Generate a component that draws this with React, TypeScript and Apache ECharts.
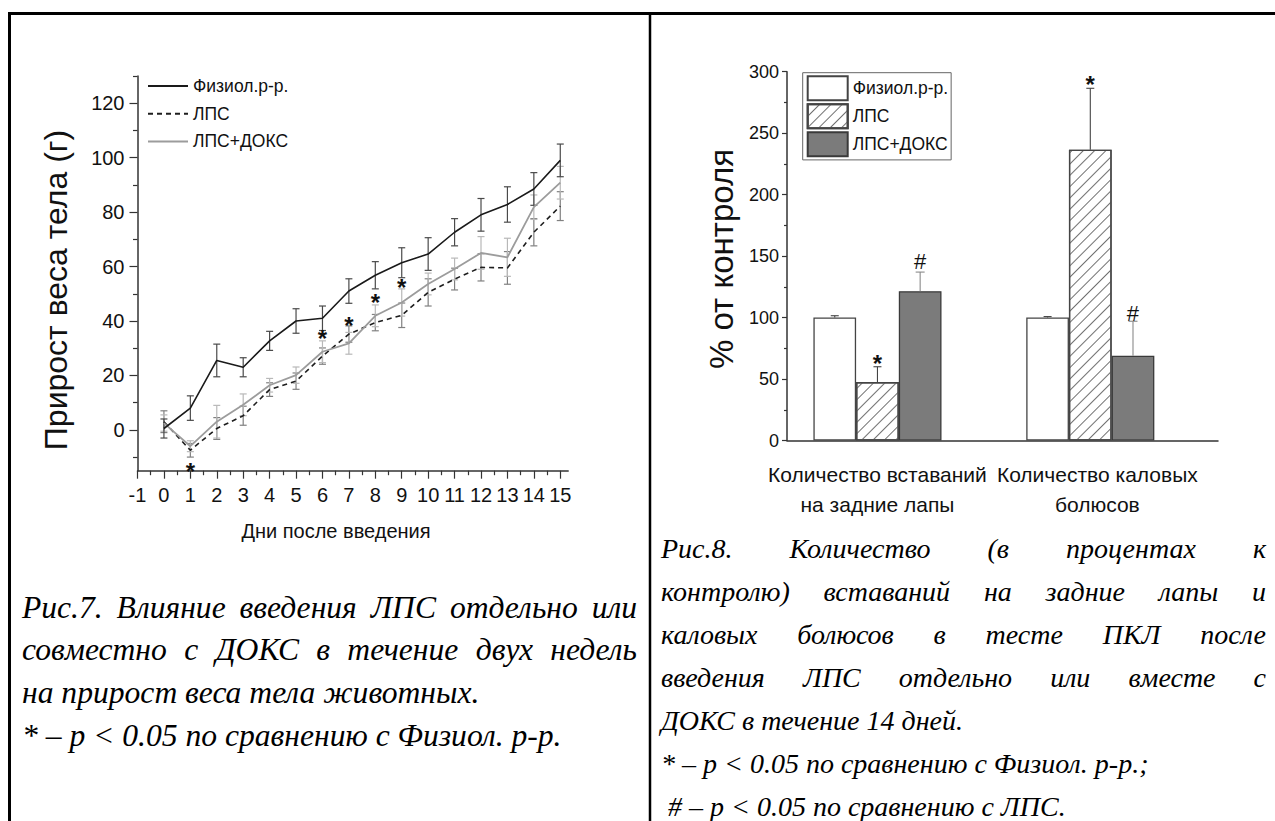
import React, { useEffect, useRef } from 'react';
import * as echarts from 'echarts';

// ---------- Left chart data (Рис.7) ----------
const days = [0, 1, 2, 3, 4, 5, 6, 7, 8, 9, 10, 11, 12, 13, 14, 15];
const physio = [0.5, 8, 25.5, 23, 32.7, 40, 41, 51, 56.8, 61.4, 64.6, 72.6, 79, 82.8, 88.5, 99];
const physioErr = [3.5, 4.5, 6, 3.5, 3.5, 4.5, 4.5, 4.5, 5, 5.5, 6, 5, 6, 6.5, 6, 6];
const lps = [3, -7.5, 0.5, 5.2, 14.8, 17.9, 27.1, 35.2, 39.4, 42.1, 50.5, 55.4, 59.7, 59.5, 72.6, 82.2];
const lpsErr = [4, 2.5, 4, 3.5, 2.5, 3, 3, 3, 3, 4.5, 5, 4, 5, 6, 5, 5.3];
const lpsDox = [2.5, -6, 3, 9.2, 16.4, 20.1, 28.7, 31.8, 41.9, 46.8, 53.6, 59.1, 65, 63.4, 81.8, 90.8];
const lpsDoxErr = [3, 2, 6, 4, 2.5, 3, 4, 4, 4, 5, 4, 4, 6, 7, 4.5, 6];
const leftStars = [[1, -13.5, 0], [6, 35.4, 0], [7, 40, 0], [8, 48.6, 0], [9, 54, 0]];
const lineNames = ['Физиол.р-р.', 'ЛПС', 'ЛПС+ДОКС'];
const dayTicks = [-1, 0, 1, 2, 3, 4, 5, 6, 7, 8, 9, 10, 11, 12, 13, 14, 15];
const dayMinorTicks = [-0.5, 0.5, 1.5, 2.5, 3.5, 4.5, 5.5, 6.5, 7.5, 8.5, 9.5, 10.5, 11.5, 12.5, 13.5, 14.5];
const weightTicks = [0, 20, 40, 60, 80, 100, 120];
const weightMinorTicks = [-10, 10, 30, 50, 70, 90, 110, 130];

// ---------- Right chart data (Рис.8) ----------
const barGroups = ['Количество вставаний\nна задние лапы', 'Количество каловых\nболюсов'];
const barPos = [1, 2];
const groupLabelPos = [1, 2.033];
const physioPct = [100, 100];
const physioPctErr = [1.5, 0.8];
const lpsPct = [47.5, 236.5];
const lpsPctErr = [12.5, 50];
const lpsDoxPct = [121.5, 69];
const lpsDoxPctErr = [15.5, 28];
const rightStars = [[1, 67, 0], [2, 294, 0]];
const rightHashes = [[1, 146, 1], [2, 103.7, 1]];
const barSeriesKeys = ['bar-phys', 'bar-lps', 'bar-lpsdox'];
const barLegendLabels = ['Физиол.р-р.', 'ЛПС', 'ЛПС+ДОКС'];

// ---------- Captions ----------
const leftCaption: [string, boolean][] = [
  ['Рис.7. Влияние введения ЛПС отдельно или', true],
  ['совместно с ДОКС в течение двух недель', true],
  ['на прирост веса тела животных.', false],
  ['* – p < 0.05 по сравнению с Физиол. р-р.', false],
];
const rightCaption: [string, boolean][] = [
  ['Рис.8. Количество (в процентах к', true],
  ['контролю) вставаний на задние лапы и', true],
  ['каловых болюсов в тесте ПКЛ после', true],
  ['введения ЛПС отдельно или вместе с', true],
  ['ДОКС в течение 14 дней.', false],
  ['* – p < 0.05 по сравнению с Физиол. р-р.;', false],
  [' # – p < 0.05 по сравнению с ЛПС.', false],
];

const W = 1275;
const H = 821;
const SANS = 'Liberation Sans';
const SERIF = 'Liberation Serif';
const BAR_W = 42.7;

function measure(text: string, font: string): number {
  const ctx = document.createElement('canvas').getContext('2d')!;
  ctx.font = font;
  return ctx.measureText(text).width;
}

function captionElements(lines: [string, boolean][], size: number, x0: number, x1: number, y0: number, dy: number) {
  const font = `italic ${size}px "${SERIF}"`;
  const els: any[] = [];
  lines.forEach(([text, justify], li) => {
    const y = y0 + li * dy;
    const style = { fontStyle: 'italic', fontSize: size, fontFamily: SERIF, fill: '#000', verticalAlign: 'middle', align: 'left' };
    if (!justify) {
      els.push({ type: 'text', silent: true, x: x0, y, style: { ...style, text } });
      return;
    }
    const words = text.split(' ');
    const widths = words.map((w) => measure(w, font));
    const total = widths.reduce((a, b) => a + b, 0);
    const gap = (x1 - x0 - total) / (words.length - 1);
    let x = x0;
    words.forEach((w, i) => {
      els.push({ type: 'text', silent: true, x, y, style: { ...style, text: w } });
      x += widths[i] + gap;
    });
  });
  return els;
}

const errRender = (color: string, hw: number) => (params: any, api: any) => {
  const x = api.value(0);
  const y = api.value(1);
  const e = api.value(2);
  const t = api.coord([x, y + e]);
  const b = api.coord([x, y - e]);
  const st = { stroke: color, lineWidth: 1.2 };
  return {
    type: 'group',
    children: [
      { type: 'line', shape: { x1: t[0], y1: t[1], x2: b[0], y2: b[1] }, style: st },
      { type: 'line', shape: { x1: t[0] - hw, y1: t[1], x2: t[0] + hw, y2: t[1] }, style: st },
      { type: 'line', shape: { x1: b[0] - hw, y1: b[1], x2: b[0] + hw, y2: b[1] }, style: st },
    ],
  };
};

const barErrRender = (color: string, hw: number) => (params: any, api: any) => {
  const x = api.value(0);
  const y = api.value(1);
  const e = api.value(2);
  const s = api.value(3);
  const a = api.coord([x, y]);
  const t = api.coord([x, y + e]);
  const dx = s * BAR_W;
  const st = { stroke: color, lineWidth: 1.1 };
  return {
    type: 'group',
    children: [
      { type: 'line', shape: { x1: a[0] + dx, y1: a[1], x2: t[0] + dx, y2: t[1] }, style: st },
      { type: 'line', shape: { x1: t[0] + dx - hw, y1: t[1], x2: t[0] + dx + hw, y2: t[1] }, style: st },
    ],
  };
};

const markRender = (mark: string, size: number, weight: string, dy: number) => (params: any, api: any) => {
  const p = api.coord([api.value(0), api.value(1)]);
  return {
    type: 'text',
    x: p[0] + api.value(2) * BAR_W,
    y: p[1] + dy,
    style: { text: mark, fontSize: size, fontWeight: weight, fontFamily: SANS, fill: '#111', align: 'center', verticalAlign: 'middle' },
  };
};

export default function App() {
  const ref = useRef<HTMLDivElement>(null);
  useEffect(() => {
    const chart = echarts.init(ref.current!, null, { renderer: 'svg', width: W, height: H });
    const axisColor = '#333';
    const labelStyle = { color: '#111', fontFamily: SANS };

    const option: any = {
      animation: false,
      backgroundColor: '#fff',
      grid: [
        { left: 137.5, top: 76, width: 430.7, height: 394.7 },
        { left: 787, top: 71.7, width: 431, height: 368.8 },
      ],
      legend: [
        {
          data: lineNames,
          orient: 'vertical',
          left: 147,
          top: 77,
          padding: 0,
          itemWidth: 40,
          itemHeight: 16,
          itemGap: 9.7,
          selectedMode: false,
          itemStyle: { opacity: 0 },
          textStyle: { fontSize: 17.5, fontFamily: SANS, color: '#111' },
        },
        {
          data: barSeriesKeys,
          formatter: (name: string) => barLegendLabels[barSeriesKeys.indexOf(name)],
          orient: 'vertical',
          left: 802.7,
          top: 72.7,
          padding: [2.6, 3, 2.6, 4],
          itemWidth: 40,
          itemHeight: 24,
          itemGap: 2,
          icon: 'rect',
          borderColor: '#666',
          borderWidth: 1,
          selectedMode: false,
          textStyle: { fontSize: 17.5, fontFamily: SANS, color: '#111' },
        },
      ],
      xAxis: [
        {
          type: 'value', gridIndex: 0, min: -1, max: 15.3, position: 'bottom',
          axisLine: { onZero: false, lineStyle: { color: axisColor, width: 1.5 } },
          axisTick: { customValues: dayTicks, length: 8, lineStyle: { color: axisColor, width: 1.2 } },
          axisLabel: { customValues: dayTicks, margin: 14, fontSize: 20, ...labelStyle },
          splitLine: { show: false },
        },
        {
          type: 'value', gridIndex: 0, min: -1, max: 15.3, position: 'bottom',
          axisLine: { show: false, onZero: false },
          axisTick: { customValues: dayMinorTicks, length: 4.5, lineStyle: { color: axisColor, width: 1.2 } },
          axisLabel: { show: false },
          splitLine: { show: false },
        },
        {
          type: 'value', gridIndex: 1, min: 0.575, max: 2.6, position: 'bottom',
          axisLine: { onZero: false, lineStyle: { color: axisColor, width: 1.5 } },
          axisTick: { show: false },
          axisLabel: {
            customValues: groupLabelPos,
            formatter: (v: number) => barGroups[groupLabelPos.indexOf(v)],
            fontSize: 21, lineHeight: 30, margin: 19, ...labelStyle,
          },
          splitLine: { show: false },
        },
      ],
      yAxis: [
        {
          type: 'value', gridIndex: 0, min: -15, max: 130, position: 'left',
          axisLine: { show: true, onZero: false, lineStyle: { color: axisColor, width: 1.5 } },
          axisTick: { show: true, customValues: weightTicks, length: 8, lineStyle: { color: axisColor, width: 1.2 } },
          axisLabel: { customValues: weightTicks, margin: 13, fontSize: 20, ...labelStyle },
          splitLine: { show: false },
        },
        {
          type: 'value', gridIndex: 0, min: -15, max: 130, position: 'left',
          axisLine: { show: false, onZero: false },
          axisTick: { show: true, customValues: weightMinorTicks, length: 4.5, lineStyle: { color: axisColor, width: 1.2 } },
          axisLabel: { show: false },
          splitLine: { show: false },
        },
        {
          type: 'value', gridIndex: 1, min: 0, max: 300, interval: 50, position: 'left',
          axisLine: { show: true, onZero: false, lineStyle: { color: axisColor, width: 1.5 } },
          axisTick: { show: true, length: 5, lineStyle: { color: axisColor, width: 1.2 } },
          minorTick: { show: true, splitNumber: 2, length: 3, lineStyle: { color: axisColor, width: 1.2 } },
          axisLabel: { margin: 8, fontSize: 18, ...labelStyle },
          splitLine: { show: false },
        },
      ],
      series: [
        // error bars (left)
        { type: 'custom', name: 'errLps', xAxisIndex: 0, yAxisIndex: 0, z: 1, silent: true, encode: { x: 0, y: 1 },
          renderItem: errRender('#808080', 3.5), data: days.map((d, i) => [d, lps[i], lpsErr[i]]) },
        { type: 'custom', name: 'errLpsDox', xAxisIndex: 0, yAxisIndex: 0, z: 1, silent: true, encode: { x: 0, y: 1 },
          renderItem: errRender('#b8b8b8', 3.5), data: days.map((d, i) => [d, lpsDox[i], lpsDoxErr[i]]) },
        { type: 'custom', name: 'errPhysio', xAxisIndex: 0, yAxisIndex: 0, z: 1, silent: true, encode: { x: 0, y: 1 },
          renderItem: errRender('#4a4a4a', 3.5), data: days.map((d, i) => [d, physio[i], physioErr[i]]) },
        // lines
        { type: 'line', name: lineNames[1], xAxisIndex: 0, yAxisIndex: 0, z: 3, symbol: 'none',
          lineStyle: { color: '#1e1e1e', width: 1.6, type: [5, 4] }, itemStyle: { color: '#1e1e1e' },
          data: days.map((d, i) => [d, lps[i]]) },
        { type: 'line', name: lineNames[2], xAxisIndex: 0, yAxisIndex: 0, z: 3, symbol: 'none',
          lineStyle: { color: '#9c9c9c', width: 1.8 }, itemStyle: { color: '#9c9c9c' },
          data: days.map((d, i) => [d, lpsDox[i]]) },
        { type: 'line', name: lineNames[0], xAxisIndex: 0, yAxisIndex: 0, z: 4, symbol: 'none',
          lineStyle: { color: '#1a1a1a', width: 1.6 }, itemStyle: { color: '#1a1a1a' },
          data: days.map((d, i) => [d, physio[i]]) },
        { type: 'custom', name: 'starsLeft', xAxisIndex: 0, yAxisIndex: 0, z: 5, silent: true, encode: { x: 0, y: 1 },
          renderItem: markRender('*', 24, 'bold', 5), data: leftStars },
        // bars (right)
        { type: 'bar', name: barSeriesKeys[0], xAxisIndex: 2, yAxisIndex: 2, barWidth: BAR_W, barGap: '0%',
          itemStyle: { color: '#ffffff', borderColor: '#444', borderWidth: 1.3 },
          data: barPos.map((p, i) => [p, physioPct[i]]) },
        { type: 'bar', name: barSeriesKeys[1], xAxisIndex: 2, yAxisIndex: 2, barWidth: BAR_W, barGap: '0%',
          itemStyle: {
            color: '#ffffff', borderColor: '#444', borderWidth: 1.3,
            decal: { symbol: 'rect', symbolSize: 1, color: '#707070', dashArrayX: [1, 0], dashArrayY: [1, 6.5], rotation: -Math.PI / 4 },
          },
          data: barPos.map((p, i) => [p, lpsPct[i]]) },
        { type: 'bar', name: barSeriesKeys[2], xAxisIndex: 2, yAxisIndex: 2, barWidth: BAR_W, barGap: '0%',
          itemStyle: { color: '#7b7b7b', borderColor: '#3a3a3a', borderWidth: 1.3 },
          data: barPos.map((p, i) => [p, lpsDoxPct[i]]) },
        { type: 'custom', name: 'errBars', xAxisIndex: 2, yAxisIndex: 2, z: 3, silent: true, encode: { x: 0, y: 1 },
          renderItem: barErrRender('#444', 4), data: barPos.map((p, i) => [p, physioPct[i], physioPctErr[i], -1]) },
        { type: 'custom', name: 'errBars2', xAxisIndex: 2, yAxisIndex: 2, z: 3, silent: true, encode: { x: 0, y: 1 },
          renderItem: barErrRender('#444', 4), data: barPos.map((p, i) => [p, lpsPct[i], lpsPctErr[i], 0]) },
        { type: 'custom', name: 'errBars3', xAxisIndex: 2, yAxisIndex: 2, z: 3, silent: true, encode: { x: 0, y: 1 },
          renderItem: barErrRender('#8a8a8a', 4.5), data: barPos.map((p, i) => [p, lpsDoxPct[i], lpsDoxPctErr[i], 1]) },
        { type: 'custom', name: 'starsRight', xAxisIndex: 2, yAxisIndex: 2, z: 5, silent: true, encode: { x: 0, y: 1 },
          renderItem: markRender('*', 24, 'bold', 5), data: rightStars },
        { type: 'custom', name: 'hashRight', xAxisIndex: 2, yAxisIndex: 2, z: 5, silent: true, encode: { x: 0, y: 1 },
          renderItem: markRender('#', 22, 'normal', 0), data: rightHashes },
      ],
      graphic: [
        // table borders
        { type: 'line', silent: true, shape: { x1: 8, y1: 13.5, x2: W, y2: 13.5 }, style: { stroke: '#000', lineWidth: 3 } },
        { type: 'line', silent: true, shape: { x1: 9.5, y1: 12, x2: 9.5, y2: H }, style: { stroke: '#000', lineWidth: 3 } },
        { type: 'line', silent: true, shape: { x1: 650, y1: 12, x2: 650, y2: H }, style: { stroke: '#000', lineWidth: 2.5 } },
        // axis titles
        { type: 'text', silent: true, x: 56, y: 290, rotation: Math.PI / 2,
          style: { text: 'Прирост веса тела (г)', fontSize: 32, fontFamily: SANS, fill: '#111', align: 'center', verticalAlign: 'middle' } },
        { type: 'text', silent: true, x: 336, y: 531,
          style: { text: 'Дни после введения', fontSize: 20, fontFamily: SANS, fill: '#111', align: 'center', verticalAlign: 'middle' } },
        { type: 'text', silent: true, x: 721, y: 259, rotation: Math.PI / 2,
          style: { text: '% от контроля', fontSize: 33, fontFamily: SANS, fill: '#111', align: 'center', verticalAlign: 'middle' } },
        ...captionElements(leftCaption, 31.6, 22, 637, 607, 42.7),
        ...captionElements(rightCaption, 28, 661, 1266, 548, 43),
      ],
    };
    chart.setOption(option);
    return () => chart.dispose();
  }, []);
  return <div ref={ref} style={{ position: 'absolute', left: 0, top: 0, width: W, height: H, background: '#fff' }} />;
}
